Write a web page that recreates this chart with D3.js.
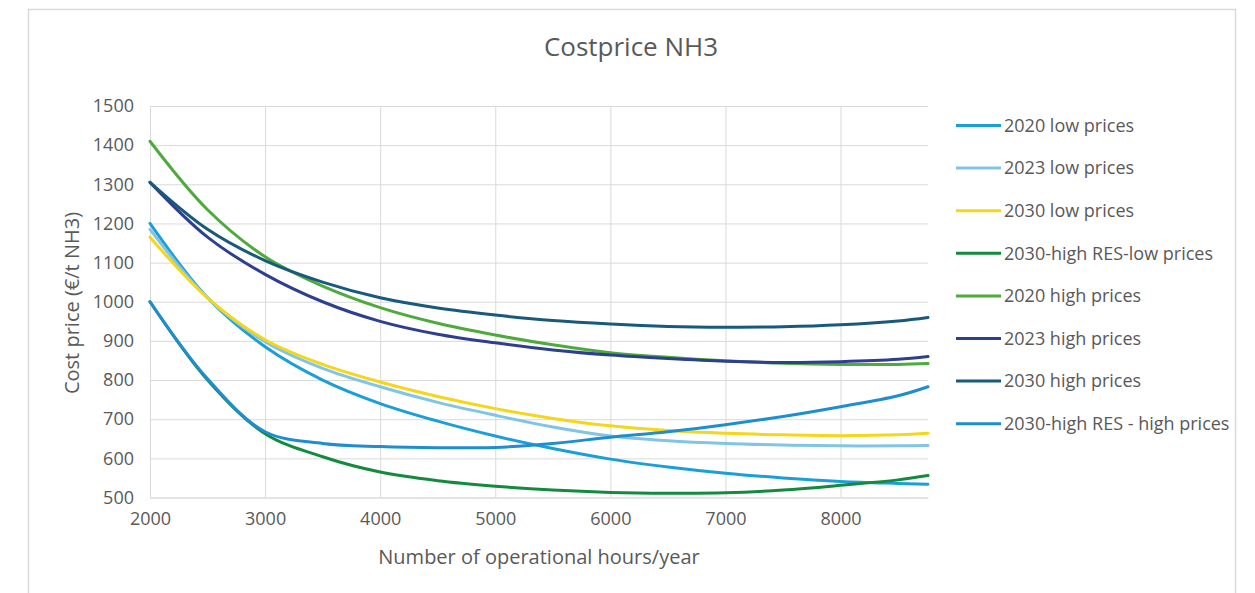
<!DOCTYPE html>
<html>
<head>
<meta charset="utf-8">
<script src="https://cdn.jsdelivr.net/npm/d3@7"></script>
<style>
  html, body { margin: 0; padding: 0; background: #ffffff; }
  svg { display: block; }
  text { font-family: "Open Sans", "Noto Sans", sans-serif; fill: #595959; }
</style>
</head>
<body>
<svg id="chart" width="1255" height="593"></svg>
<script>
// Operating hours per year (x values)
const hours = [2000, 2500, 3000, 3500, 4000, 4500, 5000, 5500, 6000, 6500, 7000, 7500, 8000, 8500, 8760];

// Cost price of NH3 (€/t) per scenario
const low2020     = [1200, 1010, 885, 800, 740, 695, 657, 625, 598, 578, 562, 550, 541, 536, 534];
const low2023     = [1185, 1010, 898, 830, 783, 743, 710, 680, 657, 645, 638, 634, 632, 632, 633];
const low2030     = [1165, 1010, 903, 840, 795, 758, 727, 702, 683, 671, 664, 660, 658, 660, 664];
const resLow2030  = [1000, 800, 663, 604, 565, 543, 529, 519, 513, 511, 512, 519, 531, 545, 556];
const high2020    = [1410, 1235, 1115, 1040, 985, 945, 915, 890, 870, 858, 849, 843, 840, 840, 842];
const high2023    = [1305, 1165, 1070, 1000, 950, 917, 895, 877, 864, 855, 848, 845, 847, 853, 860];
const high2030    = [1305, 1185, 1105, 1050, 1010, 984, 966, 952, 943, 937, 935, 936, 941, 951, 960];
const resHigh2030 = [1000, 803, 668, 638, 630, 627, 628, 638, 654, 668, 686, 707, 732, 760, 783];

const seriesNames = ["2020 low prices", "2023 low prices", "2030 low prices", "2030-high RES-low prices",
                     "2020 high prices", "2023 high prices", "2030 high prices", "2030-high RES - high prices"];
const seriesValues = [low2020, low2023, low2030, resLow2030, high2020, high2023, high2030, resHigh2030];
const seriesColors = ["#1b9fd8", "#80c4e6", "#f4d61a", "#148a3f", "#4eaa3c", "#2f3f8f", "#175a7c", "#1e8ed0"];

const xTicks = [2000, 3000, 4000, 5000, 6000, 7000, 8000];
const yTicks = [500, 600, 700, 800, 900, 1000, 1100, 1200, 1300, 1400, 1500];

const titleText = "Costprice NH3";
const xTitle = "Number of operational hours/year";
const yTitle = "Cost price (€/t NH3)";

const svg = d3.select("#chart");

// chart frame
svg.append("rect")
  .attr("x", 28.5).attr("y", 9.5)
  .attr("width", 1207).attr("height", 620)
  .attr("fill", "#ffffff")
  .attr("stroke", "#d9d9d9")
  .attr("stroke-width", 1.5);

const plot = { left: 150, right: 928, top: 106, bottom: 497.5 };

const x = d3.scaleLinear().domain([2000, 8760]).range([plot.left, plot.right]);
const y = d3.scaleLinear().domain([500, 1500]).range([plot.bottom, plot.top]);

// horizontal gridlines
svg.append("g")
  .attr("transform", `translate(${plot.left},0)`)
  .call(d3.axisLeft(y).tickValues(yTicks).tickSize(-(plot.right - plot.left)).tickFormat(""))
  .call(g => g.select(".domain").remove())
  .call(g => g.selectAll("line").attr("stroke", "#d9d9d9").attr("stroke-width", 1));

// vertical gridlines
svg.append("g")
  .attr("transform", `translate(0,${plot.bottom})`)
  .call(d3.axisBottom(x).tickValues(xTicks).tickSize(-(plot.bottom - plot.top)).tickFormat(""))
  .call(g => g.select(".domain").remove())
  .call(g => g.selectAll("line").attr("stroke", "#d9d9d9").attr("stroke-width", 1));

// y axis labels
svg.append("g")
  .attr("transform", `translate(${plot.left},0)`)
  .call(d3.axisLeft(y).tickValues(yTicks).tickSize(0).tickPadding(16).tickFormat(d3.format("d")))
  .call(g => g.select(".domain").remove())
  .call(g => g.selectAll("text").style("font-size", "18px").attr("fill", "#595959"));

// x axis with baseline and labels
svg.append("g")
  .attr("transform", `translate(0,${plot.bottom})`)
  .call(d3.axisBottom(x).tickValues(xTicks).tickSize(0).tickPadding(15).tickFormat(d3.format("d")))
  .call(g => g.select(".domain").attr("stroke", "#d9d9d9").attr("stroke-width", 1.2))
  .call(g => g.selectAll("text").style("font-size", "18px").attr("fill", "#595959"));

// series lines
const line = d3.line()
  .x((d, i) => x(hours[i]))
  .y(d => y(d))
  .curve(d3.curveCatmullRom.alpha(0.5));

svg.append("g")
  .selectAll("path")
  .data(seriesValues)
  .join("path")
  .attr("d", d => line(d))
  .attr("fill", "none")
  .attr("stroke", (d, i) => seriesColors[i])
  .attr("stroke-width", 3)
  .attr("stroke-linecap", "round");

// title
svg.append("text")
  .attr("x", 631).attr("y", 56)
  .attr("text-anchor", "middle")
  .style("font-size", "26px")
  .text(titleText);

// axis titles
svg.append("text")
  .attr("x", 539).attr("y", 564)
  .attr("text-anchor", "middle")
  .style("font-size", "20px")
  .text(xTitle);

svg.append("text")
  .attr("transform", "translate(79,303) rotate(-90)")
  .attr("text-anchor", "middle")
  .style("font-size", "20px")
  .text(yTitle);

// legend
const legend = svg.append("g")
  .selectAll("g")
  .data(seriesNames)
  .join("g")
  .attr("transform", (d, i) => `translate(956,${125.5 + i * 42.6})`);

legend.append("line")
  .attr("x1", 0).attr("x2", 45)
  .attr("stroke", (d, i) => seriesColors[i])
  .attr("stroke-width", 3);

legend.append("text")
  .attr("x", 48).attr("dy", "0.35em")
  .style("font-size", "18px")
  .text(d => d);
</script>
</body>
</html>
